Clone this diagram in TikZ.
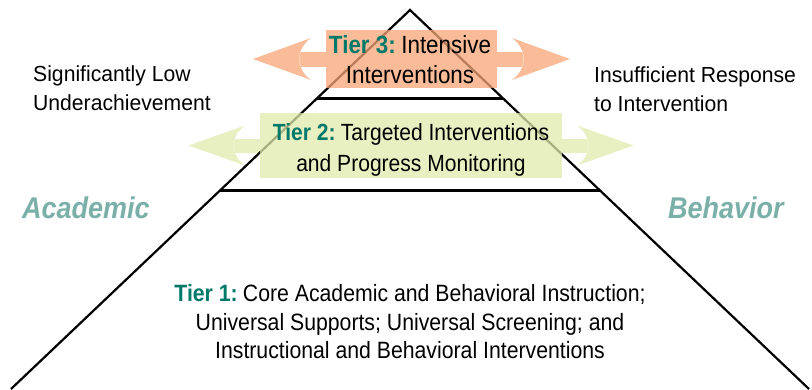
\documentclass[tikz,border=0pt]{standalone}
\usepackage{fontspec}
\setmainfont[FakeStretch=0.9]{Liberation Sans}
\newfontfamily\notefont[FakeStretch=0.97]{Liberation Sans}
\usetikzlibrary{calc}

% colours as they appear on white
\definecolor{arroworange}{RGB}{250,188,152}
\definecolor{arrowgreen}{RGB}{232,239,192}
% box colours, laid down at 75% so the pyramid shows through
\definecolor{boxorange}{RGB}{248,166,118}
\definecolor{boxgreen}{RGB}{224,234,171}
\definecolor{tierteal}{RGB}{0,120,106}
\definecolor{sideteal}{RGB}{122,176,168}

\newcommand{\tiername}[1]{\textcolor{tierteal}{\textbf{#1}}\hspace{0.22em}}

\begin{document}
\begin{tikzpicture}[x=1pt,y=-1pt,
  edge/.style={line width=2.2pt},
  tierline/.style={line width=3.5pt},
  tierframe/.style={draw=none,fill=none,inner sep=0pt},
  tierbox/.style={draw=none,inner sep=0pt,fill opacity=0.75},
  maintext/.style={inner sep=0pt,anchor=north,align=center,text=black},
  sidetext/.style={inner sep=0pt,anchor=north west,align=left,text=black,
    font=\notefont\fontsize{21.8}{29.3}\selectfont},
  sidelabel/.style={inner sep=0pt,anchor=base west,text=sideteal,
    font=\fontsize{30}{34}\selectfont\bfseries\itshape}
]
\useasboundingbox (0,0) rectangle (812,389);

% pyramid corners
\coordinate (apex) at (410,10);
\coordinate (bl) at (11,389);
\coordinate (br) at (809,389);
\coordinate (t3l) at ($(apex)!0.2335!(bl)$);
\coordinate (t3r) at ($(apex)!0.2335!(br)$);
\coordinate (t2l) at ($(apex)!0.4757!(bl)$);
\coordinate (t2r) at ($(apex)!0.4757!(br)$);

% tier box frames (invisible), so the arrows can hang off them
\path (411.5,59) node[tierframe,minimum width=171pt,minimum height=58pt] (t3box) {};
\path (411,145.5) node[tierframe,minimum width=302pt,minimum height=65pt] (t2box) {};

% double arrows behind the boxes
\foreach \s in {1,-1}{
  \begin{scope}[shift={(t3box.center)},xscale=\s]
    \fill[arroworange] (-158.5,0) -- (-100.5,-21)
      .. controls (-116,-10) and (-116,10) .. (-100.5,21) -- cycle;
    \fill[arroworange] (-113,-7.5) rectangle (-85.5,7.5);
    \draw[white,opacity=0.45,line width=0.6pt] (-110.8,-7.5)
      .. controls (-112.5,-2.5) and (-112.5,2.5) .. (-110.8,7.5);
  \end{scope}
  \begin{scope}[shift={(t2box.center)},xscale=\s]
    \fill[arrowgreen] (-222.5,0) -- (-166,-20)
      .. controls (-181,-10) and (-181,10) .. (-166,20) -- cycle;
    \fill[arrowgreen] (-178,-7) rectangle (-151,7);
    \draw[white,opacity=0.45,line width=0.6pt] (-175.8,-7)
      .. controls (-177.6,-2.3) and (-177.6,2.3) .. (-175.8,7);
  \end{scope}
}

% pyramid outline and tier dividers
\draw[edge] (bl) -- (apex) -- (br);
\draw[tierline] (t3l) -- (t3r);
\draw[tierline] (t2l) -- (t2r);

% translucent boxes on top of the lines
\path (t3box.center) node[tierbox,fill=boxorange,minimum width=171pt,minimum height=58pt] (t3fill) {};
\path (t2box.center) node[tierbox,fill=boxgreen,minimum width=302pt,minimum height=65pt] (t2fill) {};

% tier texts
\node[maintext,font=\fontsize{24.9}{30}\selectfont] (t3text) at (410,35.7)
  {\tiername{Tier 3:}Intensive\\Interventions};
\node[maintext,font=\fontsize{23.4}{31}\selectfont] (t2text) at (411,123.3)
  {\tiername{Tier 2:}Targeted Interventions\\and Progress Monitoring};
\node[maintext,font=\fontsize{23.6}{28.8}\selectfont] (t1text) at (410,284)
  {\tiername{Tier 1:}Core Academic and Behavioral Instruction;\\
   Universal Supports; Universal Screening; and\\
   Instructional and Behavioral Interventions};

% side notes
\node[sidetext] (lownote) at (33,65) {Significantly Low\\Underachievement};
\node[sidetext] (rtinote) at (594,66.7) {Insufficient Response\\to Intervention};
\node[sidelabel] (academic) at (22,218) {Academic};
\node[sidelabel] (behavior) at (668,218) {Behavior};
\end{tikzpicture}
\end{document}
